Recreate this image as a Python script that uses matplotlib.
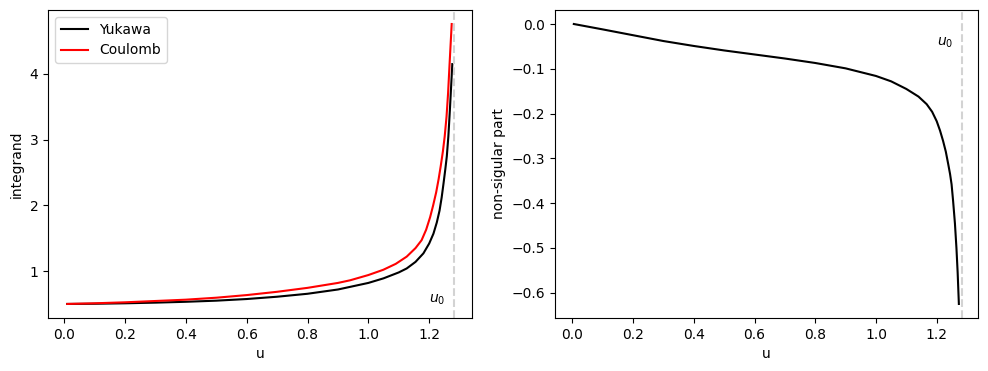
import matplotlib
matplotlib.use("Agg")
import matplotlib.pyplot as plt
import numpy as np

# values
u0 = 1.283

u_yuk = [0.01, 0.1, 0.2, 0.3, 0.4, 0.5, 0.6, 0.7, 0.8, 0.9, 0.94, 1.0, 1.05,
         1.1, 1.126, 1.155, 1.181, 1.2, 1.214, 1.225, 1.234, 1.241, 1.247,
         1.253, 1.258, 1.263, 1.268, 1.272, 1.276]
yukawa = [0.50, 0.503, 0.51, 0.52, 0.533, 0.55, 0.575, 0.61, 0.655, 0.72,
          0.76, 0.82, 0.89, 0.98, 1.04, 1.14, 1.27, 1.42, 1.57, 1.74, 1.92,
          2.12, 2.33, 2.55, 2.75, 3.05, 3.45, 3.80, 4.15]

u_coul = [0.01, 0.1, 0.2, 0.3, 0.4, 0.5, 0.6, 0.7, 0.8, 0.9, 0.94, 1.0, 1.049,
          1.09, 1.126, 1.155, 1.175, 1.19, 1.203, 1.213, 1.223, 1.231, 1.238,
          1.245, 1.251, 1.257, 1.262, 1.267, 1.271, 1.274]
coulomb = [0.50, 0.51, 0.525, 0.545, 0.565, 0.595, 0.635, 0.685, 0.745, 0.82,
           0.86, 0.94, 1.02, 1.11, 1.22, 1.35, 1.47, 1.63, 1.82, 2.00, 2.20,
           2.40, 2.60, 2.82, 3.05, 3.35, 3.70, 4.15, 4.50, 4.76]

u_right = [0.005, 0.1, 0.2, 0.3, 0.4, 0.5, 0.6, 0.7, 0.8, 0.9, 1.0, 1.05,
           1.1, 1.14, 1.167, 1.185, 1.2, 1.211, 1.221, 1.23, 1.238, 1.244,
           1.249, 1.254, 1.26, 1.265, 1.269, 1.273]
nonsing = [0.0, -0.012, -0.025, -0.038, -0.049, -0.059, -0.068, -0.077,
           -0.087, -0.099, -0.116, -0.128, -0.145, -0.162, -0.179, -0.196,
           -0.217, -0.238, -0.261, -0.285, -0.313, -0.335, -0.358, -0.395,
           -0.445, -0.50, -0.555, -0.625]

fig, axarr = plt.subplots(1, 2, figsize=(9.88, 3.71), dpi=100)
fig.subplots_adjust(left=0.0486, right=0.99, bottom=0.143, top=0.973, wspace=0.196)

ax = axarr[0]
ax.plot(u_yuk, yukawa, color='black', label='Yukawa')
ax.plot(u_coul, coulomb, color='red', label='Coulomb')
ax.axvline(u0, color='lightgray', ls='--')
ax.text(1.253, 0.56, '$u_0$', ha='right', va='center')
ax.set_xlabel('u')
ax.set_ylabel('integrand')
ax.legend(loc='upper left')

ax = axarr[1]
ax.plot(u_right, nonsing, color='black')
ax.axvline(u0, color='lightgray', ls='--')
ax.text(1.253, -0.043, '$u_0$', ha='right', va='center')
ax.set_xlabel('u')
ax.set_ylabel('non-sigular part')

fig.savefig('out.png')
